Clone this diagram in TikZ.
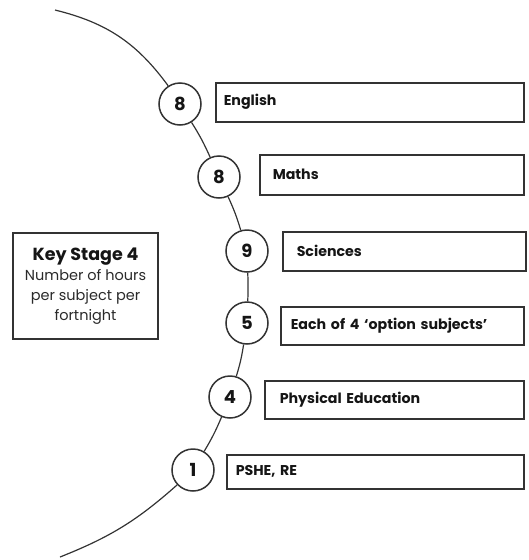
\documentclass[tikz,border=0pt]{standalone}
\usepackage{fontspec}
\setmainfont{Poppins}
\definecolor{linec}{HTML}{333333}
\definecolor{txt}{HTML}{151515}
\definecolor{bodytxt}{HTML}{2A2A2A}
\begin{document}
\begin{tikzpicture}[x=1pt,y=-1pt,
  num/.style={circle, draw=linec, line width=1.5pt, minimum size=42pt, inner sep=0pt,
    fill=white, text=txt, font=\bfseries\fontsize{18}{20}\selectfont},
  subj/.style={draw=linec, line width=1.5pt, anchor=north west, align=left, inner ysep=0pt,
    text=txt, font=\bfseries\fontsize{14.2}{16}\selectfont},
  arcline/.style={draw=linec, line width=1.2pt},
  keybox/.style={draw=linec, line width=1.5pt, minimum width=145pt, minimum height=106pt,
    align=center, text=bodytxt, inner sep=0pt, font=\fontsize{14.5}{19.7}\selectfont}
]
\useasboundingbox (0,0) rectangle (528,560);

% circles
\node[num] (c1) at (180,104) {8};
\node[num] (c2) at (219,177) {8};
\node[num] (c3) at (247,251) {9};
\node[num] (c4) at (247,323) {5};
\node[num] (c5) at (230,397) {4};
\node[num] (c6) at (193,470) {1};

\coordinate (top) at (55,10);
\coordinate (bot) at (60,557);

\draw[arcline] (top) to[bend left=20] (c1);
\draw[arcline] (c1) to[bend left=4] (c2);
\draw[arcline] (c2) to[bend left=4] (c3);
\draw[arcline] (c3) to[bend left=2] (c4);
\draw[arcline] (c4) to[bend left=4] (c5);
\draw[arcline] (c5) to[bend left=4] (c6);
\draw[arcline] (c6) to[bend left=10] (bot);

% subject boxes
\node[subj, minimum height=39pt, inner xsep=8pt, text width=292pt] (b1) at (215,82) {English};
\node[subj, minimum height=40pt, inner xsep=13pt, text width=238pt] (b2) at (259,154) {Maths};
\node[subj, minimum height=39pt, inner xsep=14pt, text width=215pt] (b3) at (282,231) {Sciences};
\node[subj, minimum height=38pt, inner xsep=10pt, text width=223pt] (b4) at (280,306) {Each of 4 ‘option subjects’};
\node[subj, minimum height=38pt, inner xsep=15pt, text width=229pt] (b5) at (264,380) {Physical Education};
\node[subj, minimum height=34pt, inner xsep=9pt, text width=279pt] (b6) at (226,454) {PSHE, RE};

% key box
\node[keybox] (key) at (85.5,286) {{\bfseries\color{txt}\fontsize{17.5}{22}\selectfont Key Stage 4}\\[1pt]
  Number of hours\\per subject per\\fortnight};
\end{tikzpicture}
\end{document}
